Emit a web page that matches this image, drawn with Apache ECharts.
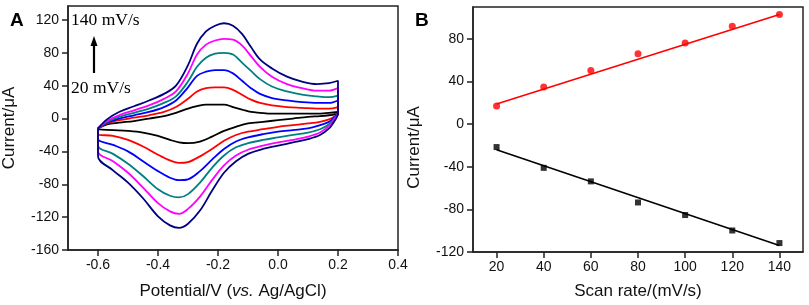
<!DOCTYPE html>
<html><head><meta charset="utf-8">
<script src="https://cdn.jsdelivr.net/npm/echarts@6/dist/echarts.min.js"></script>
<style>html,body{margin:0;padding:0;background:#fff}#c{width:809px;height:305px}</style>
</head><body><div id="c"></div>
<script>
// ---------- Panel A: cyclic voltammograms ----------
const potentialForward = [-0.6,-0.57,-0.53,-0.48,-0.43,-0.38,-0.34,-0.3,-0.27,-0.24,-0.21,-0.18,-0.15,-0.12,-0.09,-0.06,-0.02,0.03,0.08,0.13,0.17,0.2];
const potentialReverse = [0.2,0.19,0.17,0.14,0.1,0.05,0,-0.05,-0.1,-0.14,-0.18,-0.22,-0.26,-0.3,-0.33,-0.36,-0.4,-0.45,-0.5,-0.55,-0.6];

const cvNames = ['20 mV/s','40 mV/s','60 mV/s','80 mV/s','100 mV/s','140 mV/s'];
const cvColors = ['#000000','#ff0000','#0000ff','#008080','#ff00ff','#000080'];

const fwdBlack   = [-12,-7,-5,-3,0,3,7,12,15,17,17,17,14,11,8,7,6,6,6,6,7,8];
const revBlack   = [6,5,4,3,2,0,-2,-4,-6,-10,-15,-22,-28,-30,-29,-26,-21,-17,-15,-14,-13];
const fwdRed     = [-12,-6,-2,1,4,8,14,24,33,37,38,38,35,29,23,19,16,14,13,12,12,14];
const revRed     = [6,3,-1,-4,-6,-8,-10,-13,-16,-20,-27,-37,-46,-53,-54,-51,-44,-34,-26,-21,-19];
const fwdBlue    = [-12,-5,0,4,8,14,22,38,52,57,59,59,55,46,37,30,25,22,20,19,19,22];
const revBlue    = [6,2,-4,-8,-12,-14,-16,-19,-23,-28,-37,-50,-64,-74,-75,-72,-64,-52,-40,-32,-25];
const fwdTeal    = [-12,-4,2,7,12,19,27,45,63,74,79,80,78,68,58,48,39,33,29,27,26,28];
const revTeal    = [6,1,-7,-13,-17,-20,-23,-26,-30,-35,-45,-60,-78,-92,-96,-94,-86,-70,-55,-43,-33];
const fwdMagenta = [-12,-3,4,10,16,24,33,55,78,90,95,97,96,89,76,63,51,42,37,34,34,37];
const revMagenta = [6,0,-9,-17,-22,-26,-29,-33,-38,-45,-57,-75,-95,-110,-116,-113,-103,-84,-66,-52,-40];
const fwdNavy    = [-12,-1,8,15,22,30,40,65,91,106,113,116,113,103,87,72,61,51,45,42,43,46];
const revNavy    = [6,-2,-12,-20,-25,-29,-33,-37,-43,-52,-66,-88,-112,-128,-133,-130,-119,-97,-78,-63,-46];

const cvForward = [fwdBlack, fwdRed, fwdBlue, fwdTeal, fwdMagenta, fwdNavy];
const cvReverse = [revBlack, revRed, revBlue, revTeal, revMagenta, revNavy];

const aXTicks = [-0.6,-0.4,-0.2,0.0,0.2,0.4];
const aYTicks = [-160,-120,-80,-40,0,40,80,120];

// ---------- Panel B: peak current vs scan rate ----------
const scanRates = [20,40,60,80,100,120,140];
const anodicPeak = [17,35,50.5,66,76.3,92,103];
const cathodicPeak = [-21.5,-41,-53.7,-73.5,-85.3,-99.8,-111.6];
const anodicFitRates = [20,140];
const anodicFit = [19,103];
const cathodicFitRates = [20,140];
const cathodicFit = [-24,-114];

const bXTicks = [20,40,60,80,100,120,140];
const bYTicks = [-120,-80,-40,0,40,80];

const zip = (xs, ys) => xs.map((x, i) => [x, ys[i]]);

const sans = 'Liberation Sans, Arial, sans-serif';
const serif = 'Liberation Serif, Times New Roman, serif';
const axisColor = '#222';

function xAxisCfg(gridIndex, min, max, ticks, name, fmt, nameGap) {
  return {
    type: 'value', gridIndex, min, max,
    name, nameLocation: 'middle', nameGap,
    nameTextStyle: { fontFamily: sans, fontSize: 17, color: '#111',
      rich: { i: { fontFamily: sans, fontSize: 17, fontStyle: 'italic', color: '#111' } } },
    axisLine: { show: true, onZero: false, lineStyle: { color: axisColor, width: 1.5 } },
    axisTick: { show: true, inside: false, length: 6, customValues: ticks, lineStyle: { color: axisColor, width: 1.5 } },
    axisLabel: { show: true, margin: 8, customValues: ticks, formatter: fmt, fontFamily: sans, fontSize: 14, color: '#111' },
    splitLine: { show: false }
  };
}
function yAxisCfg(gridIndex, min, max, ticks, name, padding) {
  return {
    type: 'value', gridIndex, min, max,
    name, nameLocation: 'middle', nameGap: 50,
    nameTextStyle: { fontFamily: sans, fontSize: 17, color: '#111', padding },
    axisLine: { show: true, onZero: false, lineStyle: { color: axisColor, width: 1.5 } },
    axisTick: { show: true, inside: false, length: 6, customValues: ticks, lineStyle: { color: axisColor, width: 1.5 } },
    axisLabel: { show: true, margin: 9, customValues: ticks, fontFamily: sans, fontSize: 14, color: '#111' },
    splitLine: { show: false }
  };
}

const series = [];
cvNames.forEach((nm, k) => {
  const pts = zip(potentialForward, cvForward[k]).concat(zip(potentialReverse, cvReverse[k]));
  pts.push([potentialForward[0], cvForward[k][0]]);
  series.push({
    name: nm, type: 'line', xAxisIndex: 0, yAxisIndex: 0,
    data: pts, showSymbol: false, smooth: 0.35,
    lineStyle: { color: cvColors[k], width: 1.8 }, z: 2 + k
  });
});
series.push({
  name: 'Anodic fit', type: 'line', xAxisIndex: 1, yAxisIndex: 1,
  data: zip(anodicFitRates, anodicFit), showSymbol: false,
  lineStyle: { color: '#ff0000', width: 1.6 }
});
series.push({
  name: 'Cathodic fit', type: 'line', xAxisIndex: 1, yAxisIndex: 1,
  data: zip(cathodicFitRates, cathodicFit), showSymbol: false,
  lineStyle: { color: '#000000', width: 1.6 }
});
series.push({
  name: 'Anodic peak', type: 'scatter', xAxisIndex: 1, yAxisIndex: 1,
  data: zip(scanRates, anodicPeak), symbol: 'circle', symbolSize: 7,
  itemStyle: { color: '#ff0000' }
});
series.push({
  name: 'Cathodic peak', type: 'scatter', xAxisIndex: 1, yAxisIndex: 1,
  data: zip(scanRates, cathodicPeak), symbol: 'rect', symbolSize: 6,
  itemStyle: { color: '#000000' }
});

const chart = echarts.init(document.getElementById('c'), null, { renderer: 'canvas' });
chart.setOption({
  animation: false,
  backgroundColor: '#ffffff',
  grid: [
    { left: 68, top: 6, width: 330, height: 246, show: true, borderColor: axisColor, borderWidth: 1.5, backgroundColor: 'transparent' },
    { left: 473, top: 7, width: 330, height: 246, show: true, borderColor: axisColor, borderWidth: 1.5, backgroundColor: 'transparent' }
  ],
  xAxis: [
    xAxisCfg(0, -0.7, 0.4, aXTicks, 'Potential/V ({i|vs.} Ag/AgCl)', v => v.toFixed(1), 33),
    xAxisCfg(1, 10, 150, bXTicks, 'Scan rate/(mV/s)', v => String(v), 31)
  ],
  yAxis: [
    yAxisCfg(0, -160, 137, aYTicks, 'Current/μA', [0, 0, 0, 0]),
    yAxisCfg(1, -120, 110, bYTicks, 'Current/μA', [0, 36, 0, 0])
  ],
  graphic: [
    { type: 'text', left: 10, top: 11, style: { text: 'A', font: 'bold 19px ' + sans, fill: '#000' } },
    { type: 'text', left: 415, top: 11, style: { text: 'B', font: 'bold 19px ' + sans, fill: '#000' } },
    { type: 'text', left: 71, top: 11, style: { text: '140 mV/s', font: '17.5px ' + serif, fill: '#000' } },
    { type: 'text', left: 71, top: 79, style: { text: '20 mV/s', font: '17.5px ' + serif, fill: '#000' } },
    { type: 'line', shape: { x1: 94, y1: 73, x2: 94, y2: 44 }, style: { stroke: '#000', lineWidth: 2.2 } },
    { type: 'polygon', shape: { points: [[94, 36], [90.5, 46], [97.5, 46]] }, style: { fill: '#000' } }
  ],
  series
});
</script>
</body></html>
